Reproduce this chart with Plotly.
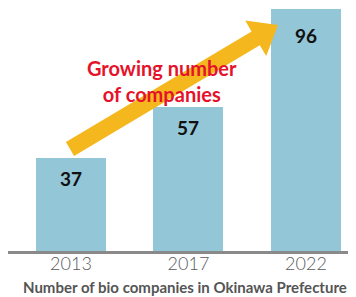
import plotly.graph_objects as go

years = ["2013", "2017", "2022"]
companies = [37, 57, 96]
value_labels = ["37", "57", "96"]
label_offsets = [-21, -20, -27]

# page has an 8px body margin; figure covers page x 8..356, y 8..297
OFF = 8
W, H = 356 - OFF, 297 - OFF
ML, MR, MT, MB = 0, 0, 0, 46
PW, PH = W - ML - MR, H - MT - MB

def px(x):
    return (x - OFF - ML) / PW

def py(y):
    return (OFF + MT + PH - y) / PH

fig = go.Figure()
fig.add_trace(go.Bar(
    x=list(range(len(years))), y=companies, width=0.596,
    marker=dict(color="#93C6D7", line=dict(width=0)),
    hoverinfo="skip",
))

for i, (v, lab, off) in enumerate(zip(companies, value_labels, label_offsets)):
    fig.add_annotation(x=i, y=v, text=lab, showarrow=False, yanchor="middle",
                       yshift=off, font=dict(family="Lato", size=19, color="#111111", weight="bold"))

# arrow (decorative)
arrow_pts = [(65.9, 142.1), (251.6, 31.4), (245.2, 20.6), (278, 25),
             (266.2, 56.0), (259.8, 45.2), (74.1, 155.9)]
path = "M " + " L ".join(f"{px(x):.4f},{py(y):.4f}" for x, y in arrow_pts) + " Z"
fig.add_shape(type="path", path=path, xref="paper", yref="paper",
              fillcolor="#F4B81E", line=dict(width=0), layer="above")

fig.add_annotation(x=px(162), y=py(81), xref="paper", yref="paper",
                   text="Growing number<br>of companies", showarrow=False,
                   align="center", xanchor="center", yanchor="middle",
                   font=dict(family="Lato", size=20, color="#E5122B", weight="bold"))

fig.add_annotation(x=px(21), y=py(287), xref="paper", yref="paper",
                   text="Number of bio companies in Okinawa Prefecture", showarrow=False,
                   xanchor="left", yanchor="middle",
                   font=dict(family="Lato", size=15, color="#555555", weight="bold"))

fig.update_layout(
    width=W, height=H,
    margin=dict(l=ML, r=MR, t=MT, b=MB),
    paper_bgcolor="white", plot_bgcolor="white",
    showlegend=False, bargap=0,
    xaxis=dict(range=[-0.536, 2.426], showline=True,
               tickvals=list(range(len(years))), ticktext=years,
               linecolor="#8A8A8A", linewidth=3, ticks="", showgrid=False, zeroline=False,
               ticklabelstandoff=-6,
               tickfont=dict(family="Lato", size=18, color="#5A5A5A", weight=300)),
    yaxis=dict(range=[0, 96.3], visible=False, showgrid=False, zeroline=False),
)

fig.write_html("out.html")
